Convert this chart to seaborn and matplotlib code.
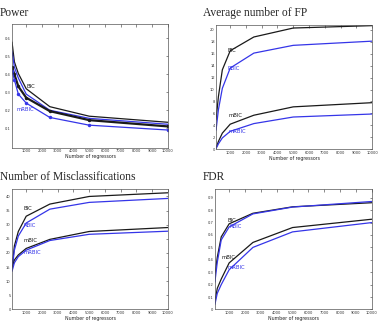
import numpy as np
import pandas as pd
import seaborn as sns
import matplotlib
matplotlib.use("Agg")
import matplotlib.pyplot as plt

# number of regressors
n_reg = [100, 250, 500, 1000, 2500, 5000, 10000]

# Power
power_bic = [0.58, 0.47, 0.405, 0.32, 0.22, 0.167, 0.133]
power_rbic = [0.53, 0.44, 0.38, 0.29, 0.20, 0.155, 0.122]
power_mbic = [0.44, 0.40, 0.333, 0.27, 0.195, 0.145, 0.11]
power_mrbic = [0.42, 0.37, 0.29, 0.24, 0.16, 0.117, 0.09]

# Average number of FP
fp_bic = [4.9, 8.8, 13.3, 16.5, 18.8, 20.3, 20.7]
fp_rbic = [3.2, 6.6, 10.2, 13.6, 16.1, 17.4, 18.1]
fp_mbic = [0.2, 1.3, 2.7, 4.2, 5.7, 7.1, 7.8]
fp_mrbic = [0.1, 0.9, 1.9, 3.0, 4.3, 5.4, 5.9]

# Number of misclassifications
mis_bic = [14.5, 22.5, 27.6, 33.0, 37.3, 40.0, 41.3]
mis_rbic = [14.0, 21.0, 26.0, 30.6, 35.5, 37.9, 39.3]
mis_mbic = [14.5, 17.5, 19.3, 21.6, 24.8, 27.6, 29.0]
mis_mrbic = [13.5, 16.5, 18.7, 21.0, 24.4, 26.6, 27.7]

# FDR
fdr_bic = [0.27, 0.42, 0.585, 0.69, 0.775, 0.827, 0.86]
fdr_rbic = [0.22, 0.38, 0.56, 0.665, 0.77, 0.825, 0.87]
fdr_mbic = [0.06, 0.17, 0.245, 0.375, 0.54, 0.66, 0.727]
fdr_mrbic = [0.04, 0.13, 0.20, 0.32, 0.50, 0.625, 0.70]

method_names = ["BIC", "RBIC", "mBIC", "mRBIC"]
BLACK = "#1a1a1a"
BLUE = "#3535e8"
colors = {"BIC": BLACK, "RBIC": BLUE, "mBIC": BLACK, "mRBIC": BLUE}

sns.set_style("white")
plt.rcParams["font.family"] = ["DejaVu Sans"]

fig = plt.figure(figsize=(3.79, 3.21), dpi=100)

panels = [
    dict(title="Power", pos=[0.0317, 0.539, 0.4116, 0.386],
         data=[power_bic, power_rbic, power_mbic, power_mrbic],
         ylim=(-0.01, 0.68), yticks=[0.1, 0.2, 0.3, 0.4, 0.5, 0.6],
         markers=True,
         labels=[("BIC", 1050, 0.33), ("mRBIC", 400, 0.205)],
         tpos=(0.0, 0.96)),
    dict(title="Average number of FP", pos=[0.570, 0.535, 0.4116, 0.387],
         data=[fp_bic, fp_rbic, fp_mbic, fp_mrbic],
         ylim=(0, 20.8), yticks=list(range(0, 21, 2)),
         markers=False,
         labels=[("BIC", 800, 16.6), ("RBIC", 800, 13.5),
                 ("mBIC", 900, 5.6), ("mRBIC", 900, 2.9)],
         tpos=(0.536, 0.96)),
    dict(title="Number of Misclassifications", pos=[0.0317, 0.036, 0.4116, 0.374],
         data=[mis_bic, mis_rbic, mis_mbic, mis_mrbic],
         ylim=(0, 42.5), yticks=list(range(0, 41, 5)),
         markers=False,
         labels=[("BIC", 830, 35.6), ("RBIC", 830, 29.8),
                 ("mBIC", 830, 24.3), ("mRBIC", 830, 20.3)],
         tpos=(0.0, 0.449)),
    dict(title="FDR", pos=[0.567, 0.036, 0.414, 0.375],
         data=[fdr_bic, fdr_rbic, fdr_mbic, fdr_mrbic],
         ylim=(0, 0.97), yticks=[round(0.1 * i, 1) for i in range(10)],
         markers=False,
         labels=[("BIC", 900, 0.716), ("RBIC", 1000, 0.665),
                 ("mBIC", 500, 0.42), ("mRBIC", 900, 0.336)],
         tpos=(0.536, 0.449)),
]

for p in panels:
    ax = fig.add_axes(p["pos"])
    for name, vals in zip(method_names, p["data"]):
        is_m = name.startswith("m") and p["markers"]
        sns.lineplot(x=n_reg, y=vals, ax=ax, color=colors[name],
                     lw=1.6 if (is_m and name == "mBIC") else 0.9,
                     marker="o" if is_m else None, markersize=2.5,
                     markeredgewidth=0)
    for txt, lx, ly in p["labels"]:
        ax.text(lx, ly, txt, fontsize=3.8, color=colors[txt], va="center")
    ax.set_xlim(100, 10000)
    ax.set_ylim(*p["ylim"])
    ax.set_xticks(range(1000, 10001, 1000))
    ax.set_yticks(p["yticks"])
    ax.set_yticklabels([f"{v:g}" for v in p["yticks"]])
    ax.tick_params(direction="in", length=1.8, width=0.4, labelsize=2.6,
                   top=True, right=True, pad=1.0, colors="#333333")
    for s in ax.spines.values():
        s.set_linewidth(0.5)
        s.set_color("#555555")
    ax.set_xlabel("Number of regressors", fontsize=3.4, va="top")
    ax.xaxis.set_label_coords(0.5, -0.052)
    ax.set_ylabel("")
    fig.text(p["tpos"][0], p["tpos"][1], p["title"], fontsize=8.3,
             family="Liberation Serif", va="center", ha="left")

fig.savefig("out.png", dpi=100)
